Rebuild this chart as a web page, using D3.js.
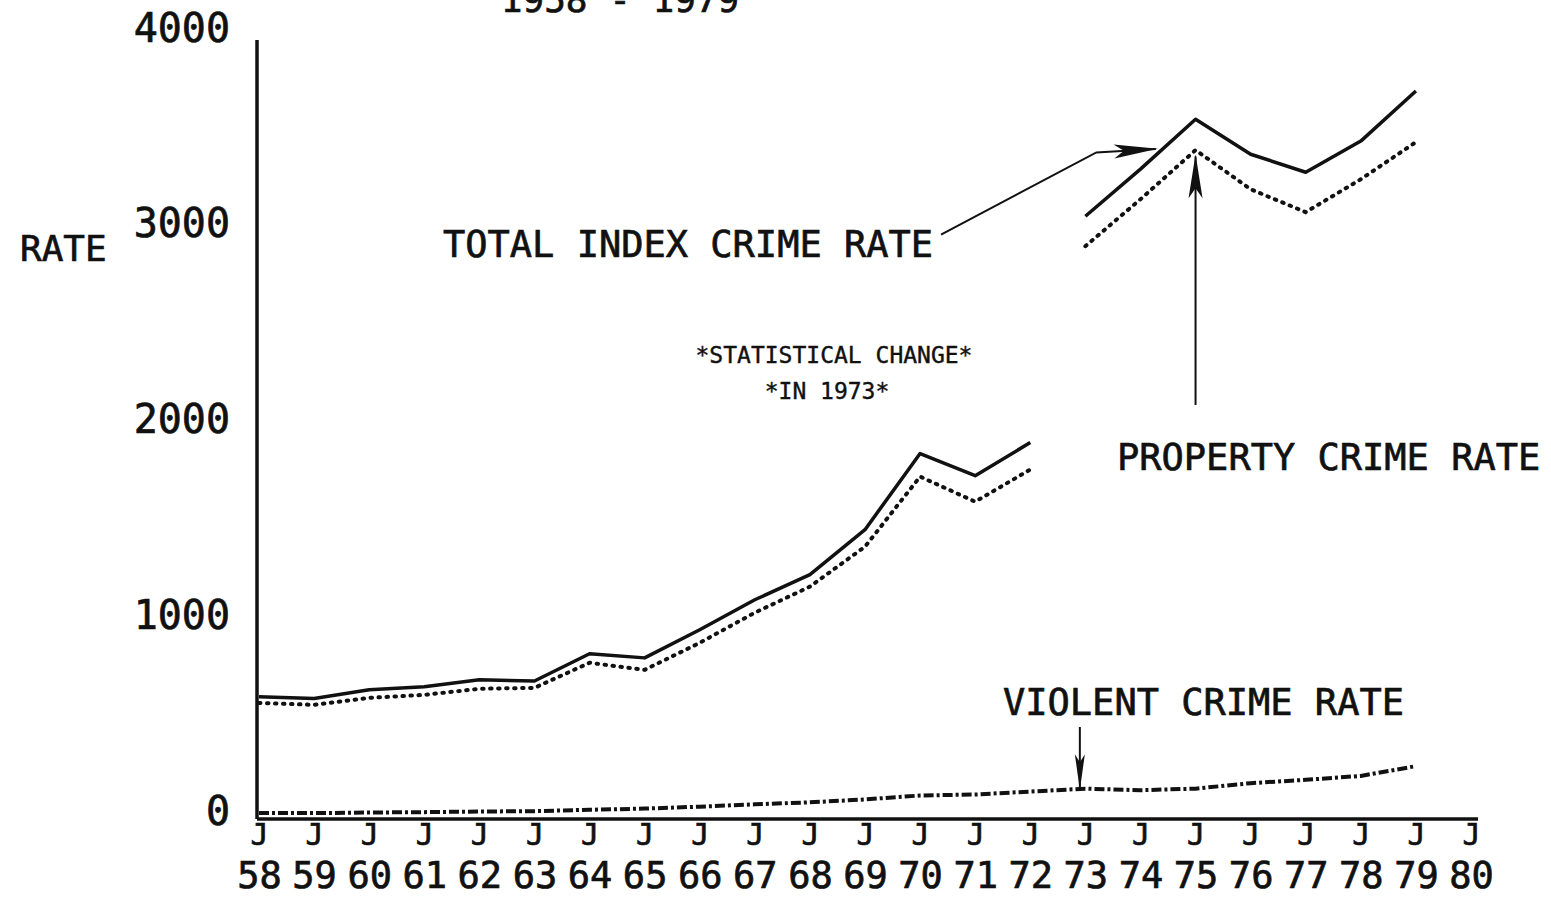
<!DOCTYPE html>
<html>
<head>
<meta charset="utf-8">
<script src="https://cdn.jsdelivr.net/npm/d3@7"></script>
<style>
  body { margin: 0; background: #fff; }
  svg { display: block; }
  text { font-family: "DejaVu Sans Mono", monospace; fill: #111; stroke: #111; stroke-width: 0.7px; }
</style>
</head>
<body>
<svg id="chart" width="1551" height="897"></svg>
<script>
// crime rates per 100,000, 1958 - 1979
var years = [1958, 1959, 1960, 1961, 1962, 1963, 1964, 1965, 1966, 1967, 1968,
             1969, 1970, 1971, 1972, 1973, 1974, 1975, 1976, 1977, 1978, 1979];
var totalRate = [619, 610, 655, 670, 706, 700, 839, 818, 962, 1115, 1243,
                 1473, 1862, 1749, 1918, 3074, 3315, 3570, 3391, 3299, 3458, 3714];
var propertyRate = [588, 578, 614, 629, 660, 665, 793, 757, 895, 1049, 1182,
                    1386, 1744, 1616, 1780, 2921, 3161, 3412, 3212, 3095, 3263, 3453];
var violentRate = [25, 25, 28, 30, 33, 35, 42, 48, 58, 70, 80,
                   95, 115, 120, 135, 150, 142, 150, 178, 195, 215, 265];

// statistical change in 1973 -> total and property lines break there
var breakYear = 1973;

var yTicks = [0, 1000, 2000, 3000, 4000];
var xTickYears = [1958, 1959, 1960, 1961, 1962, 1963, 1964, 1965, 1966, 1967, 1968, 1969,
                  1970, 1971, 1972, 1973, 1974, 1975, 1976, 1977, 1978, 1979, 1980];
var xTickLabels = ['58', '59', '60', '61', '62', '63', '64', '65', '66', '67', '68', '69',
                   '70', '71', '72', '73', '74', '75', '76', '77', '78', '79', '80'];

var svg = d3.select('#chart');

var x = d3.scaleLinear().domain([1958, 1980]).range([259, 1471]);
var y = d3.scaleLinear().domain([0, 4000]).range([818, 35]);

// arrow heads
var defs = svg.append('defs');
defs.append('marker')
    .attr('id', 'head')
    .attr('markerUnits', 'userSpaceOnUse')
    .attr('viewBox', '-46 -9 50 18')
    .attr('markerWidth', 50)
    .attr('markerHeight', 18)
    .attr('refX', 0)
    .attr('refY', 0)
    .attr('orient', 'auto')
    .append('path')
    .attr('d', 'M2,0 L-42,-7 L-32,0 L-42,7 Z')
    .attr('fill', '#111');
defs.append('marker')
    .attr('id', 'headSmall')
    .attr('markerUnits', 'userSpaceOnUse')
    .attr('viewBox', '-40 -7 44 14')
    .attr('markerWidth', 44)
    .attr('markerHeight', 14)
    .attr('refX', 0)
    .attr('refY', 0)
    .attr('orient', 'auto')
    .append('path')
    .attr('d', 'M2,0 L-34,-5 L-26,0 L-34,5 Z')
    .attr('fill', '#111');

// title, cut off by the top of the page as in the original
svg.append('text')
    .attr('x', 620).attr('y', 12)
    .attr('text-anchor', 'middle')
    .attr('font-size', 36)
    .text('1958 - 1979');

// y axis
var yAxis = d3.axisLeft(y).tickValues(yTicks).tickSize(0).tickPadding(29)
    .tickFormat(function (d) { return d; });
var gy = svg.append('g')
    .attr('transform', 'translate(' + x(1958) + ',0)')
    .call(yAxis);
gy.select('.domain').remove();
gy.selectAll('text')
    .attr('font-size', 40)
    .attr('font-family', '"DejaVu Sans Mono", monospace')
    .attr('fill', '#111')
    .attr('dy', 6);

// x axis: a row of J's and a row of years
var gxJ = svg.append('g')
    .attr('transform', 'translate(0,' + y(0) + ')')
    .call(d3.axisBottom(x).tickValues(xTickYears).tickSize(0).tickPadding(0)
        .tickFormat(function () { return 'J'; }));
gxJ.select('.domain').remove();
gxJ.selectAll('text')
    .attr('font-size', 30)
    .attr('font-family', '"DejaVu Sans Mono", monospace')
    .attr('fill', '#111')
    .attr('dy', 27);

var gxY = svg.append('g')
    .attr('transform', 'translate(0,' + y(0) + ')')
    .call(d3.axisBottom(x).tickValues(xTickYears).tickSize(0).tickPadding(0)
        .tickFormat(function (d, i) { return xTickLabels[i]; }));
gxY.select('.domain').remove();
gxY.selectAll('text')
    .attr('font-size', 37)
    .attr('font-family', '"DejaVu Sans Mono", monospace')
    .attr('fill', '#111')
    .attr('dy', 70);

// axis lines
svg.append('line')
    .attr('x1', x(1958) - 2).attr('x2', x(1958) - 2)
    .attr('y1', y(0) + 1).attr('y2', y(3975))
    .attr('stroke', '#111').attr('stroke-width', 3.5);
svg.append('line')
    .attr('x1', x(1958) - 2).attr('x2', x(1980) + 7)
    .attr('y1', y(0) + 1).attr('y2', y(0) + 1)
    .attr('stroke', '#111').attr('stroke-width', 3.5);

svg.append('text')
    .attr('x', 20).attr('y', 261)
    .attr('font-size', 36)
    .text('RATE');

// series
var rows = years.map(function (yr, i) {
    return {year: yr, total: totalRate[i], property: propertyRate[i], violent: violentRate[i]};
});
var before = rows.filter(function (d) { return d.year < breakYear; });
var after = rows.filter(function (d) { return d.year >= breakYear; });

function lineFor(key) {
    return d3.line()
        .x(function (d) { return x(d.year); })
        .y(function (d) { return y(d[key]); });
}

[before, after].forEach(function (seg) {
    svg.append('path')
        .attr('d', lineFor('total')(seg))
        .attr('fill', 'none')
        .attr('stroke', '#111')
        .attr('stroke-width', 3.5)
        .attr('stroke-linejoin', 'round');
    svg.append('path')
        .attr('d', lineFor('property')(seg))
        .attr('fill', 'none')
        .attr('stroke', '#111')
        .attr('stroke-width', 4)
        .attr('stroke-linecap', 'round')
        .attr('stroke-dasharray', '1.5,6.5');
});

svg.append('path')
    .attr('d', lineFor('violent')(rows))
    .attr('fill', 'none')
    .attr('stroke', '#111')
    .attr('stroke-width', 4)
    .attr('stroke-dasharray', '10,3,3,3');

// labels and arrows
svg.append('text')
    .attr('x', 443).attr('y', 257)
    .attr('font-size', 37)
    .text('TOTAL INDEX CRIME RATE');

var totalArrow = [[1970.38, 2980], [1973.2, 3400], [1974.28, 3418]];
svg.append('path')
    .attr('d', d3.line()(totalArrow.map(function (p) { return [x(p[0]), y(p[1])]; })))
    .attr('fill', 'none')
    .attr('stroke', '#111')
    .attr('stroke-width', 2)
    .attr('marker-end', 'url(#head)');

svg.append('text')
    .attr('x', 1117).attr('y', 470)
    .attr('font-size', 37)
    .text('PROPERTY CRIME RATE');

svg.append('line')
    .attr('x1', x(1975)).attr('x2', x(1975))
    .attr('y1', y(2110)).attr('y2', y(3380))
    .attr('stroke', '#111')
    .attr('stroke-width', 2)
    .attr('marker-end', 'url(#head)');

svg.append('text')
    .attr('x', 1003).attr('y', 715)
    .attr('font-size', 37)
    .text('VIOLENT CRIME RATE');

svg.append('line')
    .attr('x1', x(1972.9)).attr('x2', x(1972.9))
    .attr('y1', y(465)).attr('y2', y(152))
    .attr('stroke', '#111')
    .attr('stroke-width', 2)
    .attr('marker-end', 'url(#headSmall)');

svg.append('text')
    .attr('x', 834).attr('y', 363)
    .attr('text-anchor', 'middle')
    .attr('font-size', 23)
    .style('stroke-width', '0.4px')
    .text('*STATISTICAL CHANGE*');
svg.append('text')
    .attr('x', 827).attr('y', 399)
    .attr('text-anchor', 'middle')
    .attr('font-size', 23)
    .style('stroke-width', '0.4px')
    .text('*IN 1973*');
</script>
</body>
</html>
